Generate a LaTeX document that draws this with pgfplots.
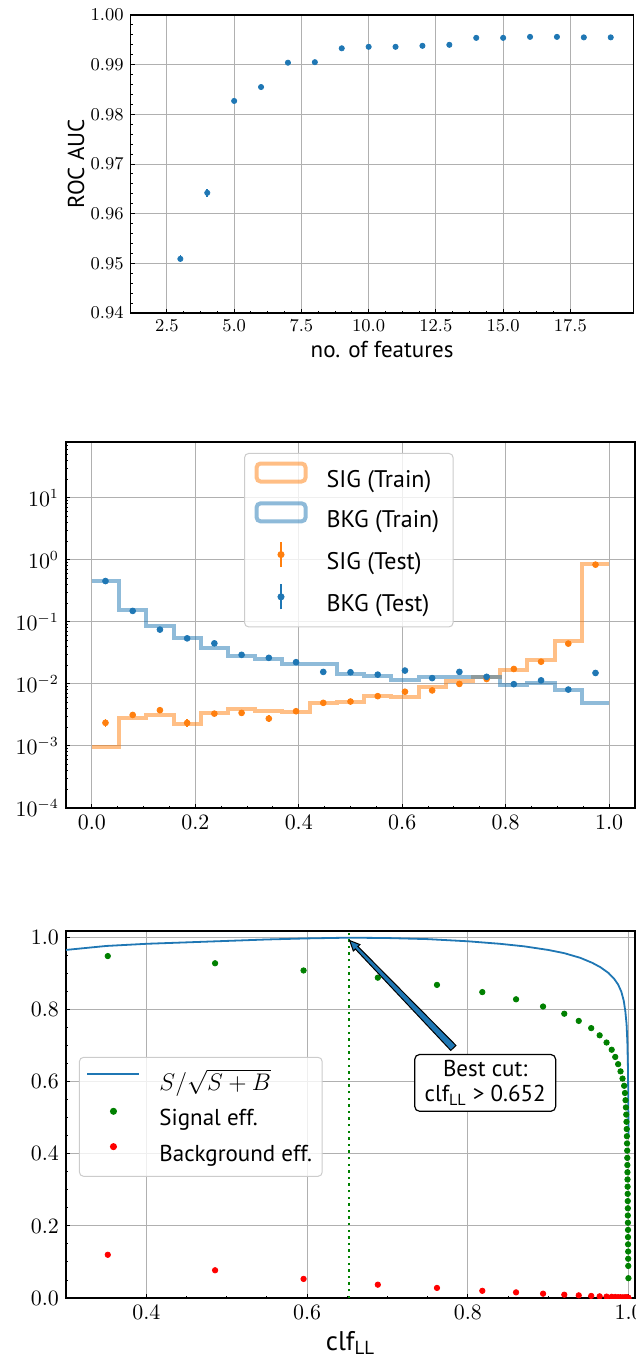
\documentclass[border=0pt]{standalone}
\usepackage{fontspec}
\setmainfont{PT Sans}
\usepackage{pgfplots}
\usepackage{pgfplotstable}
\pgfplotsset{compat=1.18}
\usetikzlibrary{calc}

\definecolor{tabblue}{HTML}{1F77B4}
\definecolor{taborange}{HTML}{FF7F0E}
\definecolor{mplgreen}{HTML}{008000}
\definecolor{mplred}{HTML}{FF0000}
\definecolor{gridgray}{HTML}{B0B0B0}
\definecolor{leggray}{HTML}{CCCCCC}

% cut scan: threshold, signal efficiency, background efficiency
\pgfplotstableread{
x sig bkg
0.3520 0.949 0.1200
0.4855 0.929 0.0770
0.5956 0.909 0.0530
0.6880 0.889 0.0370
0.7616 0.869 0.0280
0.8180 0.849 0.0200
0.8600 0.829 0.0157
0.8936 0.809 0.0120
0.9200 0.789 0.0092
0.9380 0.769 0.0074
0.9535 0.749 0.0058
0.9640 0.729 0.0047
0.9726 0.709 0.0039
0.9790 0.689 0.0033
0.9834 0.669 0.0028
0.9870 0.649 0.0024
0.9900 0.629 0.0021
0.9925 0.609 0.0018
0.9945 0.589 0.0016
0.9955 0.569 0.0014
0.9962 0.549 0.0012
0.9967 0.529 0.0011
0.9971 0.509 0.0010
0.9974 0.489 0.0009
0.9977 0.469 0.0008
0.9979 0.449 0.0007
0.9981 0.429 0.0006
0.9983 0.409 0.0006
0.9984 0.389 0.0005
0.9985 0.369 0.0005
0.9986 0.349 0.0004
0.9987 0.329 0.0004
0.9988 0.309 0.0004
0.9989 0.289 0.0003
0.9990 0.269 0.0003
0.9991 0.249 0.0003
0.9991 0.229 0.0002
0.9992 0.209 0.0002
0.9993 0.189 0.0002
0.9993 0.169 0.0002
0.9994 0.149 0.0001
0.9995 0.129 0.0001
0.9995 0.109 0.0001
0.9996 0.089 0.0001
0.9998 0.055 0.0001
}\cuttable

\pgfplotsset{
  panel/.style={
    scale only axis,
    anchor=south west,
    axis line style={line width=0.6pt},
    tick align=inside,
    tick pos=left,
    tick style={black, line width=0.5pt},
    major tick length=2pt,
    minor tick length=1.1pt,
    grid=major,
    major grid style={gridgray, line width=0.5pt},
    scaled ticks=false,
  },
  % hollow bar-outline legend symbol for the step histograms
  histlegend/.style={legend image code/.code={
    \path[draw=none] (0pt,0pt) -- (34pt,0pt);
    \draw[#1, opacity=0.5, line width=2pt, line join=miter] (1pt,-0.5pt) rectangle (25.5pt,8.5pt);}},
  % error-bar legend symbol for the test points
  errlegend/.style={legend image code/.code={
    \path[draw=none] (0pt,0pt) -- (34pt,0pt);
    \draw[#1, line width=0.8pt] (13.2pt,-2.3pt) -- (13.2pt,10.3pt);
    \fill[#1, fill opacity=1] (13.2pt,4pt) circle (1.5pt);}},
  dotlegend/.style={legend image code/.code={
    \path[draw=none] (0pt,0pt) -- (35pt,0pt);
    \fill[#1, fill opacity=1] (14pt,4pt) circle (1.5pt);}},
  linelegend/.style={legend image code/.code={
    \path[draw=none] (0pt,0pt) -- (35pt,0pt);
    \draw[draw=#1, draw opacity=1, line width=1pt] (1pt,4pt) -- (27pt,4pt);}},
}

\begin{document}
\begin{tikzpicture}
\path[use as bounding box] (0pt,0pt) rectangle (318pt,-681pt);

% ---------------- ROC AUC vs number of features ----------------
\begin{axis}[panel,
  at={(65.3pt,-156.5pt)}, width=251.5pt, height=149pt,
  xmin=1.15, xmax=19.85, ymin=0.94, ymax=1.0,
  xtick={2.5,5,7.5,10,12.5,15,17.5},
  ytick={0.94,0.95,0.96,0.97,0.98,0.99,1.00},
  minor x tick num=3, minor y tick num=4,
  ticklabel style={font=\fontsize{8.7}{10}\selectfont},
  xticklabel style={/pgf/number format/.cd, fixed, fixed zerofill, precision=1},
  yticklabel style={/pgf/number format/.cd, fixed, fixed zerofill, precision=2},
  xlabel={no. of features}, ylabel={ROC AUC},
  label style={font=\fontsize{11.5}{13}\selectfont},
  xlabel style={at={(axis description cs:0.5,-0.124)}, anchor=center},
  ylabel style={at={(axis description cs:-0.1086,0.5)}, anchor=center},
]
\addplot[only marks, mark=*, color=tabblue, mark size=1.3pt,
  error bars/.cd, y dir=both, y explicit,
  error bar style={line width=0.8pt, tabblue}, error mark=none]
coordinates {
(3,0.9509) +- (0,0.0007)
(4,0.9642) +- (0,0.0008)
(5,0.9827) +- (0,0.0004)
(6,0.9855) +- (0,0.0003)
(7,0.9904) +- (0,0.0002)
(8,0.9905) +- (0,0.0002)
(9,0.9933) +- (0,0.0002)
(10,0.9936) +- (0,0.0002)
(11,0.9936) +- (0,0.0002)
(12,0.9938) +- (0,0.0002)
(13,0.9940) +- (0,0.0002)
(14,0.9954) +- (0,0.0002)
(15,0.9954) +- (0,0.0002)
(16,0.9956) +- (0,0.0002)
(17,0.9956) +- (0,0.0002)
(18,0.9955) +- (0,0.0002)
(19,0.9955) +- (0,0.0002)
};
\end{axis}

% ---------------- classifier output distributions ----------------
\begin{axis}[panel,
  at={(33pt,-404pt)}, width=284.5pt, height=183pt,
  ymode=log,
  xmin=-0.05, xmax=1.05, ymin=1e-4, ymax=79,
  xtick={0,0.2,0.4,0.6,0.8,1.0},
  minor x tick num=3,
  ytick={1e-4,1e-3,1e-2,1e-1,1,10},
  minor ytick={2e-4,3e-4,4e-4,5e-4,6e-4,7e-4,8e-4,9e-4,
               2e-3,3e-3,4e-3,5e-3,6e-3,7e-3,8e-3,9e-3,
               2e-2,3e-2,4e-2,5e-2,6e-2,7e-2,8e-2,9e-2,
               0.2,0.3,0.4,0.5,0.6,0.7,0.8,0.9,
               2,3,4,5,6,7,8,9,20,30,40,50,60,70},
  ticklabel style={font=\fontsize{10.5}{12}\selectfont},
  xticklabel style={/pgf/number format/.cd, fixed, fixed zerofill, precision=1},
  legend cell align=left,
  legend style={at={(0.313,0.970)}, anchor=north west,
    font=\fontsize{12}{13.5}\selectfont,
    draw=leggray, fill=white, fill opacity=0.8, text opacity=1,
    rounded corners=2pt, line width=0.5pt,
    inner xsep=5pt, inner ysep=4pt, row sep=3.4pt},
]
\addplot[const plot, color=taborange, opacity=0.5, line width=2pt, line join=miter,
  histlegend=taborange]
coordinates {
(0.00000,0.00097) (0.05263,0.00278) (0.10526,0.00310) (0.15789,0.00229)
(0.21053,0.00343) (0.26316,0.00397) (0.31579,0.00370) (0.36842,0.00356)
(0.42105,0.00490) (0.47368,0.00510) (0.52632,0.00632) (0.57895,0.00620)
(0.63158,0.00900) (0.68421,0.01120) (0.73684,0.01270) (0.78947,0.01700)
(0.84211,0.02470) (0.89474,0.04880) (0.94737,0.85500) (1.00000,0.85500)
};
\addlegendentry{SIG (Train)}
\addplot[const plot, color=tabblue, opacity=0.5, line width=2pt, line join=miter,
  histlegend=tabblue]
coordinates {
(0.00000,0.4540) (0.05263,0.1550) (0.10526,0.0860) (0.15789,0.0550)
(0.21053,0.0385) (0.26316,0.0280) (0.31579,0.0251) (0.36842,0.0206)
(0.42105,0.0206) (0.47368,0.0146) (0.52632,0.0134) (0.57895,0.0117)
(0.63158,0.0131) (0.68421,0.0127) (0.73684,0.0127) (0.78947,0.0097)
(0.84211,0.0105) (0.89474,0.0081) (0.94737,0.0049) (1.00000,0.0049)
};
\addlegendentry{BKG (Train)}
\addplot[only marks, mark=*, color=taborange, mark size=1.45pt,
  errlegend=taborange,
  error bars/.cd, y dir=both, y explicit,
  error bar style={line width=0.8pt, taborange}, error mark=none]
  coordinates {
(0.02632,0.00236) +- (0,0.00032)
(0.07895,0.00316) +- (0,0.00038)
(0.13158,0.00377) +- (0,0.00042)
(0.18421,0.00235) +- (0,0.00032)
(0.23684,0.00332) +- (0,0.00038)
(0.28947,0.00341) +- (0,0.00038)
(0.34211,0.00276) +- (0,0.00034)
(0.39474,0.00363) +- (0,0.00038)
(0.44737,0.00495) +- (0,0.00042)
(0.50000,0.00520) +- (0,0.00042)
(0.55263,0.00635) +- (0,0.00046)
(0.60526,0.00748) +- (0,0.00050)
(0.65789,0.00785) +- (0,0.00050)
(0.71053,0.01000) +- (0,0.00060)
(0.76316,0.01200) +- (0,0.00060)
(0.81579,0.01740) +- (0,0.00070)
(0.86842,0.02280) +- (0,0.00080)
(0.92105,0.04460) +- (0,0.00120)
(0.97368,0.83500) +- (0,0.00600)
};
\addlegendentry{SIG (Test)}
\addplot[only marks, mark=*, color=tabblue, mark size=1.45pt,
  errlegend=tabblue,
  error bars/.cd, y dir=both, y explicit,
  error bar style={line width=0.8pt, tabblue}, error mark=none]
  coordinates {
(0.02632,0.4540) +- (0,0.0050)
(0.07895,0.1500) +- (0,0.0030)
(0.13158,0.0750) +- (0,0.0020)
(0.18421,0.0542) +- (0,0.0017)
(0.23684,0.0450) +- (0,0.0015)
(0.28947,0.0294) +- (0,0.0012)
(0.34211,0.0263) +- (0,0.0011)
(0.39474,0.0224) +- (0,0.0010)
(0.44737,0.0156) +- (0,0.0009)
(0.50000,0.0154) +- (0,0.0009)
(0.55263,0.0141) +- (0,0.0008)
(0.60526,0.0164) +- (0,0.0009)
(0.65789,0.0124) +- (0,0.0008)
(0.71053,0.0156) +- (0,0.0009)
(0.76316,0.0130) +- (0,0.0008)
(0.81579,0.0099) +- (0,0.0007)
(0.86842,0.0114) +- (0,0.0008)
(0.92105,0.0081) +- (0,0.0007)
(0.97368,0.0150) +- (0,0.0009)
};
\addlegendentry{BKG (Test)}
\end{axis}

% ---------------- cut optimisation ----------------
\begin{axis}[panel,
  at={(33pt,-649pt)}, width=284.5pt, height=183.5pt,
  xmin=0.30, xmax=1.008, ymin=0, ymax=1.0185,
  xtick={0.4,0.6,0.8,1.0},
  ytick={0,0.2,0.4,0.6,0.8,1.0},
  minor x tick num=3, minor y tick num=3,
  ticklabel style={font=\fontsize{10.5}{12}\selectfont,
    /pgf/number format/.cd, fixed, fixed zerofill, precision=1},
  xlabel={clf$_{\mathrm{LL}}$},
  xlabel style={font=\fontsize{13.5}{15}\selectfont,
    at={(axis description cs:0.5,-0.123)}, anchor=center},
  clip marker paths=true,
  legend cell align=left,
  legend style={at={(0.0228,0.657)}, anchor=north west,
    font=\fontsize{11.5}{13}\selectfont,
    draw=leggray, fill=white, fill opacity=0.8, text opacity=1,
    rounded corners=2pt, line width=0.5pt,
    inner xsep=3pt, inner ysep=4pt, row sep=4pt},
]
\addplot[color=tabblue, line width=0.9pt, linelegend=tabblue]
coordinates {
(0.300,0.966) (0.350,0.977) (0.400,0.983) (0.450,0.987) (0.500,0.991)
(0.550,0.995) (0.600,0.998) (0.652,1.000) (0.700,0.999) (0.750,0.996)
(0.800,0.990) (0.840,0.983) (0.870,0.976) (0.900,0.966) (0.920,0.957)
(0.940,0.944) (0.955,0.930) (0.965,0.918) (0.975,0.902) (0.982,0.886)
(0.987,0.870) (0.991,0.850) (0.994,0.825) (0.996,0.795) (0.9975,0.760)
(0.9985,0.710) (0.9992,0.640) (0.9996,0.560) (0.9999,0.450)
};
\addlegendentry{$S/\sqrt{S+B}$}
\addplot[only marks, mark=*, color=mplgreen, mark size=1.35pt, dotlegend=mplgreen]
  table[x=x, y=sig] {\cuttable};
\addlegendentry{Signal eff.}
\addplot[only marks, mark=*, color=mplred, mark size=1.35pt, dotlegend=mplred]
  table[x=x, y=bkg] {\cuttable};
\addlegendentry{Background eff.}
\addplot[color=mplgreen, line width=1.1pt, dash pattern=on 1.2pt off 2.1pt, forget plot]
  coordinates {(0.652,0) (0.652,1.0185)};

% annotation of the optimal threshold
\coordinate (tip) at (axis cs:0.653,0.992);
\coordinate (tail) at (axis cs:0.782,0.694);
\coordinate (hb) at ($(tip)!5pt!(tail)$);
\filldraw[fill=tabblue, draw=black, line width=0.5pt, line join=miter]
  (tip) -- ($(hb)!2.3pt!90:(tail)$) -- ($(hb)!0.9pt!90:(tail)$)
  -- ($(tail)!1.8pt!-90:(tip)$) -- ($(tail)!1.8pt!90:(tip)$)
  -- ($(hb)!0.9pt!-90:(tail)$) -- ($(hb)!2.3pt!-90:(tail)$) -- cycle;
\node[draw=black, fill=white, rounded corners=2.5pt, line width=0.6pt,
  align=center, inner xsep=5pt, inner ysep=3pt,
  font=\fontsize{11.5}{12.5}\selectfont]
  at (axis cs:0.8216,0.597) {Best cut:\\clf$_{\mathrm{LL}}$ > 0.652};
\end{axis}
\end{tikzpicture}
\end{document}
